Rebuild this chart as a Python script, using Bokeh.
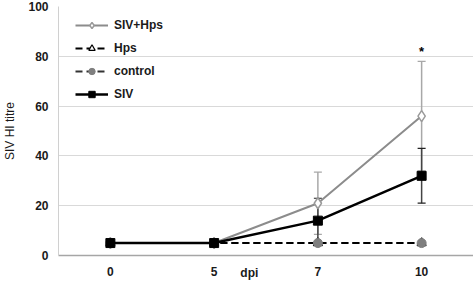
from bokeh.plotting import figure
from bokeh.models import (ColumnDataSource, Range1d, FactorRange, Whisker, TeeHead,
                          Legend, LegendItem)
from bokeh.core.properties import value
from bokeh.embed import file_html
from bokeh.resources import INLINE

days = ["0", "5", "7", "10"]
siv_hps = [5, 5, 21, 56]
siv_hps_err = [0, 0, 12.5, 22]
hps = [5, 5, 5, 5]
control = [5, 5, 5, 5]
siv = [5, 5, 14, 32]
siv_err = [0, 0, 9, 11]
star_day = ["10"]
star_y = [82]

FONT = "Liberation Sans"

p = figure(width=473, height=282, x_range=FactorRange(*days, range_padding=0),
           y_range=Range1d(0, 100), output_backend="svg", toolbar_location=None,
           min_border_left=58, min_border_right=0, min_border_top=6, min_border_bottom=26)
p.outline_line_color = None
p.background_fill_color = "white"
p.border_fill_color = "white"

p.xgrid.grid_line_color = None
p.ygrid.grid_line_color = "#d9d9d9"
p.ygrid.grid_line_width = 1
p.yaxis.ticker = [0, 20, 40, 60, 80, 100]

for ax in (p.xaxis, p.yaxis):
    ax.major_tick_line_color = None
    ax.minor_tick_line_color = None
    ax.major_tick_out = 0
    ax.major_tick_in = 0
    ax.minor_tick_out = 0
    ax.major_label_text_font = FONT
    ax.major_label_text_font_size = "12px"
    ax.major_label_text_color = "#1a1a1a"
    ax.major_label_text_font_style = "bold"
p.yaxis.axis_line_color = "#d0d0d0"
p.yaxis.major_label_standoff = 10
p.yaxis.axis_label = "SIV HI titre"
p.yaxis.axis_label_text_font = FONT
p.yaxis.axis_label_text_font_size = "12px"
p.yaxis.axis_label_text_font_style = "normal"
p.yaxis.axis_label_text_color = "#1a1a1a"
p.yaxis.axis_label_standoff = 8

p.xaxis.axis_line_color = "#a6a6a6"
p.xaxis.axis_line_width = 1.5
p.xaxis.major_label_standoff = 11
# axis title sits on the tick-label row, left of the centre (padded with no-break spaces)
p.xaxis.axis_label = "dpi" + "\u00a0" * 10
p.xaxis.axis_label_text_font = FONT
p.xaxis.axis_label_text_font_size = "12px"
p.xaxis.axis_label_text_font_style = "bold"
p.xaxis.axis_label_text_color = "#1a1a1a"
p.xaxis.axis_label_standoff = -13

def err_src(vals, errs):
    return ColumnDataSource(dict(x=days, upper=[v + e for v, e in zip(vals, errs)],
                                 lower=[v - e for v, e in zip(vals, errs)]))

# error bars
w1 = Whisker(source=err_src(siv_hps, siv_hps_err), base="x", upper="upper", lower="lower",
             line_color="#a8a8a8", line_width=1.5,
             upper_head=TeeHead(size=8, line_color="#a8a8a8", line_width=1.2),
             lower_head=TeeHead(size=8, line_color="#a8a8a8", line_width=1.2))
w2 = Whisker(source=err_src(siv, siv_err), base="x", upper="upper", lower="lower",
             line_color="#444444", line_width=1.5,
             upper_head=TeeHead(size=8, line_color="#222222", line_width=1.2),
             lower_head=TeeHead(size=8, line_color="#222222", line_width=1.2))
p.add_layout(w1)
p.add_layout(w2)

# control and Hps (dashed)
c_l = p.line(days, control, line_color="#333333", line_width=2, line_dash="7 4")
h_l = p.line(days, hps, line_color="#000000", line_width=2, line_dash="7 4")
h_m = p.scatter(days, hps, marker="triangle", size=9, fill_color="white",
                line_color="#000000", line_width=1.2)
c_m = p.scatter(days, control, marker="circle", size=9, fill_color="#7f7f7f",
                line_color="#7f7f7f")

# SIV+Hps
sh_l = p.line(days, siv_hps, line_color="#8c8c8c", line_width=2)
sh_m = p.scatter(days, siv_hps, marker="diamond", size=11, fill_color="white",
                 line_color="#9a9a9a", line_width=1.5)

# SIV
s_l = p.line(days, siv, line_color="#000000", line_width=2.5)
s_m = p.scatter(days, siv, marker="square", size=9, fill_color="#000000",
                line_color="#000000")

# significance star
p.text(x=star_day, y=star_y, text=["*"], text_font=value(FONT), text_font_size="13px",
       text_font_style="bold", text_align="center", text_baseline="middle", text_color="#000000")

legend = Legend(items=[
    LegendItem(label="SIV+Hps", renderers=[sh_l, sh_m]),
    LegendItem(label="Hps", renderers=[h_l, h_m]),
    LegendItem(label="control", renderers=[c_l, c_m]),
    LegendItem(label="SIV", renderers=[s_l, s_m]),
], location=(17, 153))
legend.border_line_color = None
legend.background_fill_alpha = 0
legend.padding = 5
legend.margin = 0
legend.glyph_width = 33
legend.glyph_height = 16
legend.label_height = 16
legend.spacing = 7
legend.label_standoff = 6
legend.label_text_font = FONT
legend.label_text_font_size = "12px"
legend.label_text_font_style = "bold"
legend.label_text_color = "#1a1a1a"
p.add_layout(legend)

open("out.html", "w").write(file_html(p, INLINE))
